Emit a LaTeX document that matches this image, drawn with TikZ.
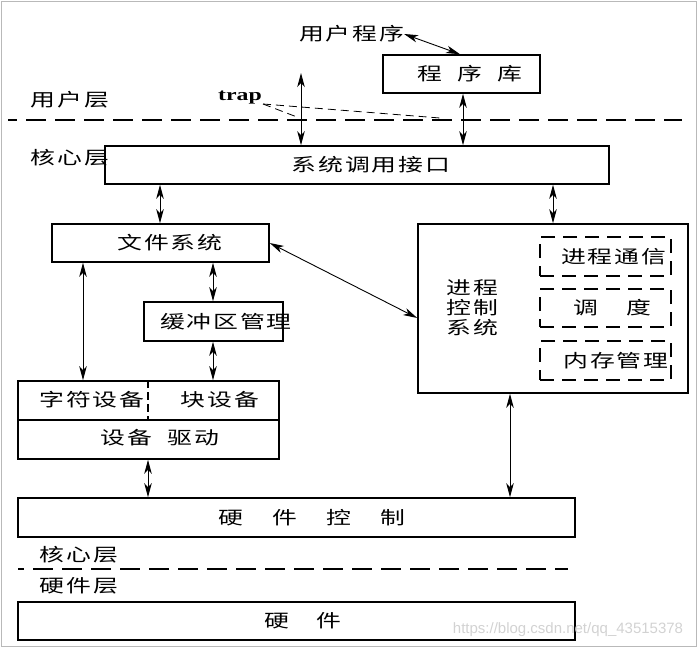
\documentclass[tikz,border=0pt]{standalone}
\usepackage{fontspec}
\newfontfamily\cjk[FakeStretch=1.38,LetterSpace=10]{Noto Sans CJK SC}
\newfontfamily\trapfont[FakeStretch=1.4]{Liberation Serif}
\newfontfamily\wmfont{Liberation Sans}
\usetikzlibrary{arrows.meta}
\begin{document}
\begin{tikzpicture}[x=1pt,y=-1pt,
  box/.style={draw,line width=1.6pt,inner sep=0pt},
  dbox/.style={draw,line width=1.4pt,dash pattern=on 14pt off 8pt,inner sep=0pt},
  lbl/.style={font=\cjk\fontsize{18pt}{20pt}\selectfont,inner sep=0pt,align=center},
  dbl/.style={line width=0.9pt,{Stealth[length=14pt,width=7.5pt,inset=4pt]}-{Stealth[length=14pt,width=7.5pt,inset=4pt]}},
  layer/.style={line width=1.6pt,dash pattern=on 20pt off 9pt},
  trapline/.style={line width=0.8pt,dash pattern=on 8pt off 5pt}]
\useasboundingbox (0,0) rectangle (698,648);
\draw[gray!55,line width=1pt] (1,1) rectangle (696,646);

% boxes
\node[box,minimum width=157pt,minimum height=38pt] (lib) at (461.5,74) {};
\node[box,minimum width=504pt,minimum height=38pt] (sci) at (357,165) {};
\node[box,minimum width=217pt,minimum height=38pt] (fs) at (160.5,243) {};
\node[box,minimum width=270pt,minimum height=169pt] (pcs) at (553,308.5) {};
\node[box,minimum width=139pt,minimum height=39pt] (buf) at (213.5,321.5) {};
\node[box,minimum width=261pt,minimum height=78pt] (dev) at (148.5,420) {};
\node[box,minimum width=557pt,minimum height=39pt] (hwc) at (296.5,517.5) {};
\node[box,minimum width=557pt,minimum height=38pt] (hw) at (296.5,621) {};
\node[dbox,minimum width=131pt,minimum height=39pt] (d1) at (605.5,256.5) {};
\node[dbox,minimum width=131pt,minimum height=38pt] (d2) at (605.5,308) {};
\node[dbox,minimum width=131pt,minimum height=39pt] (d3) at (605.5,360.5) {};

% device box dividers
\draw[line width=1.6pt] (dev.west) -- (dev.east);
\draw[line width=1.6pt,dash pattern=on 8pt off 4pt] (dev.north -| 148,0) -- (dev.center -| 148,0);

% labels
\node[lbl] (upg) at (351.5,34) {用户程序};
\node[lbl] (libt) at (470,74) {程\hspace{15pt}序\hspace{15pt}库};
\node[lbl] (ul) at (70,100) {用户层};
\node[lbl] (kl1) at (70,158) {核心层};
\node[inner sep=0pt,font=\trapfont\bfseries\fontsize{17pt}{17pt}\selectfont] (trap) at (240,98) {trap};
\node[lbl] (scit) at (371,165) {系统调用接口};
\node[lbl] (fst) at (170,243) {文件系统};
\node[lbl] (pcst) at (472.5,308) {进程\\控制\\系统};
\node[lbl] (d1t) at (613.5,256.5) {进程通信};
\node[lbl] (d2t) at (612,308) {调\hspace{28pt}度};
\node[lbl] (d3t) at (616,360.5) {内存管理};
\node[lbl] (buft) at (226,321.5) {缓冲区管理};
\node[lbl] (chr) at (92,400) {字符设备};
\node[lbl] (blk) at (220,400) {块设备};
\node[lbl] (drv) at (160,438) {设备\hspace{16pt}驱动};
\node[lbl] (hwct) at (312,517.5) {硬\hspace{29pt}件\hspace{29pt}控\hspace{29pt}制};
\node[lbl] (kl2) at (79,555) {核心层};
\node[lbl] (hl) at (79,586) {硬件层};
\node[lbl] (hwt) at (303,621) {硬\hspace{28pt}件};
\node[inner sep=0pt,text=gray!35,font=\wmfont\fontsize{15pt}{15pt}\selectfont] (wm) at (568,630) {https://blog.csdn.net/qq\_43515378};

% layer lines
\coordinate (L1a) at (8,120);
\coordinate (L1b) at (682,120);
\draw[layer,dash phase=11pt] (L1a) -- (L1b);
\coordinate (L2a) at (18,569);
\coordinate (L2b) at (568,569);
\draw[layer,line width=1.4pt,dash phase=14pt] (L2a) -- (L2b);

% trap lines
\coordinate (tr) at (263,104);
\coordinate (tr1) at (297,117);
\coordinate (tr2) at (440,118);
\draw[trapline] (tr) -- (tr1);
\draw[trapline] (tr) -- (tr2);

% arrows
\coordinate (top1) at (301,73);
\draw[dbl] (top1) -- (sci.north -| top1);
\draw[dbl] (upg.east) -- (lib.north -| 460,0);
\draw[dbl] (lib.south -| 463,0) -- (sci.north -| 463,0);
\draw[dbl] (sci.south -| 160,0) -- (fs.north -| 160,0);
\draw[dbl] (sci.south -| 553,0) -- (pcs.north -| 553,0);
\draw[dbl] (fs.east) -- ([yshift=-9.5pt]pcs.west);
\draw[dbl] (fs.south -| 83,0) -- (dev.north -| 83,0);
\draw[dbl] (fs.south -| 213,0) -- (buf.north -| 213,0);
\draw[dbl] (buf.south -| 213,0) -- (dev.north -| 213,0);
\draw[dbl] (dev.south -| 148,0) -- (hwc.north -| 148,0);
\draw[dbl] (pcs.south -| 510,0) -- (hwc.north -| 510,0);
\end{tikzpicture}
\end{document}
